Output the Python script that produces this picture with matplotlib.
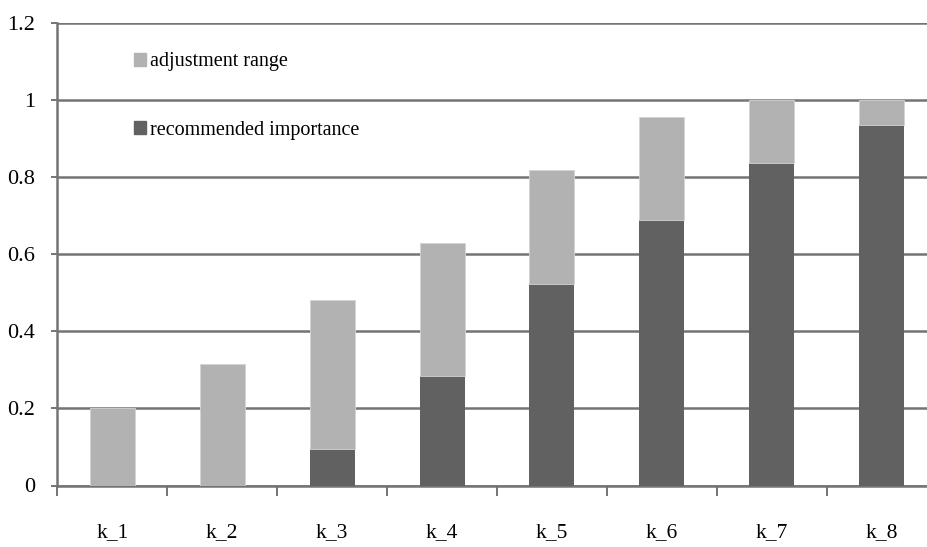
import matplotlib.pyplot as plt
from matplotlib.patches import Patch
from matplotlib.ticker import FixedLocator

categories = ['k_1', 'k_2', 'k_3', 'k_4', 'k_5', 'k_6', 'k_7', 'k_8']
recommended = [0.0, 0.0, 0.095, 0.285, 0.522, 0.688, 0.836, 0.936]
upper = [0.2, 0.315, 0.481, 0.63, 0.819, 0.955, 1.0, 1.0]
adjustment = [u - r for u, r in zip(upper, recommended)]
yticks = [0, 0.2, 0.4, 0.6, 0.8, 1, 1.2]
ytick_labels = ['0', '0.2', '0.4', '0.6', '0.8', '1', '1.2']

dark = '#616161'
light = '#b2b2b2'
line = '#747474'

plt.rcParams['font.family'] = ['Liberation Serif', 'DejaVu Serif']

fig = plt.figure(figsize=(9.28, 5.47), dpi=100)
# axes runs a bit past the right edge of the picture, as in the reference
ax = fig.add_axes([57.4 / 928, 1 - 485.5 / 547, (936.6 - 57.4) / 928, 462.8 / 547])

x = list(range(len(categories)))
ax.bar(x, recommended, width=0.41, color=dark, zorder=3)
ax.bar(x, adjustment, bottom=recommended, width=0.41, color=light,
       edgecolor='#d4d4d4', linewidth=0.6, zorder=3)

ax.set_xlim(-0.5, 7.5)
ax.set_ylim(0, 1.2)
ax.set_yticks(yticks)
ax.set_yticklabels(ytick_labels)
ax.set_xticks(x)
ax.set_xticklabels(categories)
ax.xaxis.set_minor_locator(FixedLocator([i + 0.5 for i in range(-1, 8)]))

ax.grid(axis='y', color=line, linewidth=1.8, zorder=0)
ax.set_axisbelow(True)
for s in ['top', 'right']:
    ax.spines[s].set_visible(False)
for s in ['left', 'bottom']:
    ax.spines[s].set_color(line)
    ax.spines[s].set_linewidth(1.8)

ax.tick_params(axis='y', length=4, width=1.4, color=line, pad=12, labelsize=16)
ax.tick_params(axis='x', which='major', length=0, pad=27, labelsize=15.5)
ax.tick_params(axis='x', which='minor', length=7, width=1.4, color=line, direction='out')

handles = [Patch(color=light, label='adjustment range'),
           Patch(color=dark, label='recommended importance')]
ax.legend(handles=handles, loc='upper left', bbox_to_anchor=(0.066, 0.975),
          frameon=False, fontsize=14.5, handlelength=0.62, handleheight=0.62,
          handletextpad=0.2, labelspacing=2.45)

fig.savefig('out.png', dpi=100)
